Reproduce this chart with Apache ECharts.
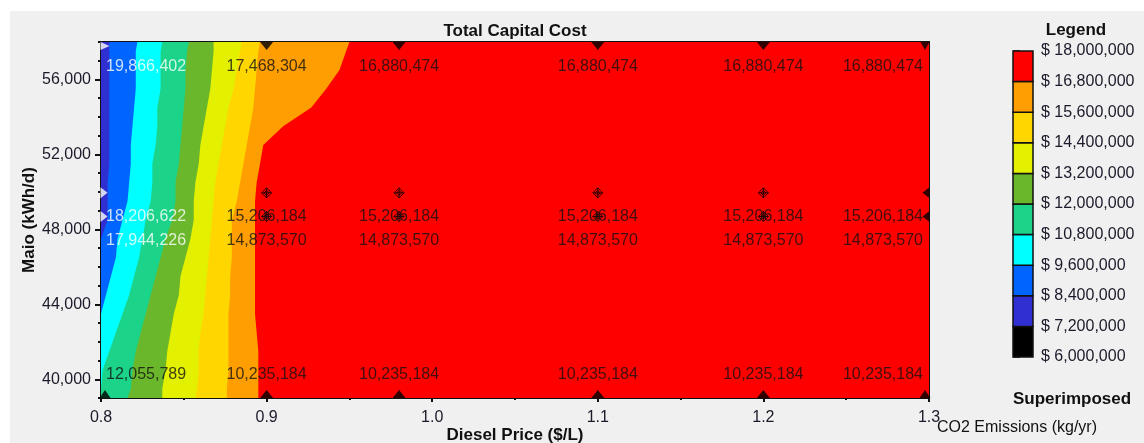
<!DOCTYPE html>
<html>
<head>
<meta charset="utf-8">
<script src="https://cdn.jsdelivr.net/npm/echarts@6/dist/echarts.min.js"></script>
<style>
  html, body { margin: 0; padding: 0; background: #ffffff; }
  #chart { width: 1144px; height: 443px; }
</style>
</head>
<body>
<div id="chart"></div>
<script>
// ---- Sensitivity cases (diesel price x Maio load) ----
const dieselPrices = [0.8, 0.9, 0.98, 1.1, 1.2, 1.3];
const maioLoads = [39000, 48690, 49950, 58000];

// Superimposed CO2 emissions (kg/yr) per load row, one value per diesel price
const co2AtLoad39000 = [12055789, 10235184, 10235184, 10235184, 10235184, 10235184];
const co2AtLoad48690 = [17944226, 14873570, 14873570, 14873570, 14873570, 14873570];
const co2AtLoad49950 = [18206622, 15206184, 15206184, 15206184, 15206184, 15206184];
const co2AtLoad58000 = [19866402, 17468304, 16880474, 16880474, 16880474, 16880474];
const co2Rows = [co2AtLoad39000, co2AtLoad48690, co2AtLoad49950, co2AtLoad58000];

// ---- Total capital cost contour: diesel price where each cost level is crossed ----
const contourLoads = [58000, 57500, 56500, 55500, 54500, 53500, 52500, 51500, 50500, 49500,
  48500, 47500, 46500, 45500, 44500, 43500, 42500, 41500, 40500, 39500, 39000];
const edgeAt8400k = [0.805, 0.805, 0.805, 0.805, 0.805, 0.805, 0.805, 0.805, 0.804, 0.804,
  0.804, 0.800, 0.800, 0.800, 0.800, 0.800, 0.800, 0.800, 0.800, 0.800, 0.800];
const edgeAt9600k = [0.822, 0.821, 0.821, 0.821, 0.820, 0.819, 0.818, 0.818, 0.817, 0.816,
  0.813, 0.810, 0.809, 0.806, 0.803, 0.800, 0.800, 0.800, 0.800, 0.800, 0.800];
const edgeAt10800k = [0.837, 0.836, 0.836, 0.836, 0.834, 0.834, 0.833, 0.831, 0.831, 0.830,
  0.827, 0.825, 0.823, 0.820, 0.817, 0.813, 0.809, 0.805, 0.801, 0.800, 0.800];
const edgeAt12000k = [0.853, 0.852, 0.851, 0.851, 0.850, 0.849, 0.848, 0.847, 0.845, 0.845,
  0.843, 0.839, 0.836, 0.833, 0.830, 0.827, 0.824, 0.821, 0.819, 0.818, 0.816];
const edgeAt13200k = [0.868, 0.868, 0.867, 0.866, 0.864, 0.862, 0.860, 0.859, 0.857, 0.856,
  0.856, 0.854, 0.851, 0.848, 0.847, 0.844, 0.842, 0.840, 0.839, 0.837, 0.837];
const edgeAt14400k = [0.885, 0.884, 0.882, 0.880, 0.877, 0.875, 0.873, 0.871, 0.869, 0.868,
  0.867, 0.866, 0.865, 0.864, 0.863, 0.862, 0.860, 0.859, 0.859, 0.858, 0.857];
const edgeAt15600k = [0.896, 0.895, 0.894, 0.893, 0.892, 0.890, 0.888, 0.886, 0.884, 0.882,
  0.879, 0.879, 0.879, 0.878, 0.878, 0.877, 0.877, 0.877, 0.877, 0.876, 0.876];
const edgeAt16800k = [0.950, 0.948, 0.944, 0.936, 0.927, 0.910, 0.898, 0.896, 0.894, 0.893,
  0.893, 0.893, 0.893, 0.893, 0.893, 0.893, 0.894, 0.895, 0.895, 0.895, 0.895];

// ---- Legend scale ----
const costThresholds = [6000000, 7200000, 8400000, 9600000, 10800000, 12000000,
  13200000, 14400000, 15600000, 16800000, 18000000];
const costColors = ['#000000', '#3030d2', '#0064ff', '#00ffff', '#1cd38a',
  '#6ab72c', '#e3f000', '#ffd600', '#ff9e00', '#ff0000'];

// ---- Axis ranges ----
const priceMin = 0.8, priceMax = 1.3, priceStep = 0.1;
const loadMin = 39000, loadMax = 58000;
const loadLabelTicks = [40000, 44000, 48000, 52000, 56000];

const bandEdges = [edgeAt8400k, edgeAt9600k, edgeAt10800k, edgeAt12000k,
  edgeAt13200k, edgeAt14400k, edgeAt15600k, edgeAt16800k];
const bandColors = costColors.slice(1);

const FONT = '"Liberation Sans", Arial, sans-serif';
const fmt = v => Math.round(v).toLocaleString('en-US');

// Each band covers everything to the right of its lower cost edge;
// drawn in order so the next band paints over it.
function renderBand(params, api) {
  const k = params.dataIndex;
  const left = k === 0 ? null : bandEdges[k - 1];
  const pts = [];
  for (let i = 0; i < contourLoads.length; i++) {
    pts.push(api.coord([left ? left[i] : priceMin, contourLoads[i]]));
  }
  pts.push(api.coord([priceMax, contourLoads[contourLoads.length - 1]]));
  pts.push(api.coord([priceMax, contourLoads[0]]));
  return { type: 'polygon', shape: { points: pts }, style: { fill: bandColors[k] } };
}

function renderLegendCell(params, api) {
  const i = params.dataIndex;
  const p0 = api.coord([0, costThresholds[i]]);
  const p1 = api.coord([1, costThresholds[i + 1]]);
  return {
    type: 'rect',
    shape: { x: p0[0], y: p1[1], width: p1[0] - p0[0], height: p0[1] - p1[1] },
    style: { fill: costColors[i], stroke: '#111', lineWidth: 1.5 }
  };
}

// Marker shapes for the sensitivity cases
const triDown = 'path://M0 0L2 0L1 1.2Z';
const triUp = 'path://M1 0L2 1.2L0 1.2Z';
const triRight = 'path://M0 0L1.2 1L0 2Z';
const triLeft = 'path://M1.2 0L1.2 2L0 1Z';
const caseMark = 'path://M5 0L10 5L5 10L0 5Z M5 2.5L7.5 5L5 7.5L2.5 5Z M0 5L10 5 M5 0L5 10';

function markerFor(row, col) {
  const last = dieselPrices.length - 1;
  const isTop = row === maioLoads.length - 1, isBottom = row === 0;
  if (col === 0 || col === last) {
    const white = col === 0 && !isBottom;
    const color = white ? '#ffffff' : '#000000';
    if (isTop) return { symbol: col === 0 ? triRight : triDown, symbolSize: [9, 8], symbolOffset: [col === 0 ? 4 : -4, 4], itemStyle: { color } };
    if (isBottom) return { symbol: triUp, symbolSize: [11, 8], symbolOffset: [col === 0 ? 4 : -4, -4], itemStyle: { color } };
    return { symbol: col === 0 ? triRight : triLeft, symbolSize: [7, 11], symbolOffset: [col === 0 ? 3 : -3, 0], itemStyle: { color } };
  }
  if (isTop) return { symbol: triDown, symbolSize: [13, 8], symbolOffset: [0, 4], itemStyle: { color: '#000' } };
  if (isBottom) return { symbol: triUp, symbolSize: [13, 8], symbolOffset: [0, -4], itemStyle: { color: '#000' } };
  return { symbol: caseMark, symbolSize: 10, itemStyle: { color: 'rgba(0,0,0,0)', borderColor: '#000', borderWidth: 1 } };
}

const markerData = [];
const labelData = [];
maioLoads.forEach((load, r) => {
  dieselPrices.forEach((price, c) => {
    markerData.push(Object.assign({ value: [price, load] }, markerFor(r, c)));
    const dy = r === 0 ? -23 : (r === maioLoads.length - 1 ? 25 : 24);
    const align = c === 0 ? 'left' : (c === dieselPrices.length - 1 ? 'right' : 'center');
    const dx = c === 0 ? 5 : (c === dieselPrices.length - 1 ? -6 : 0);
    const whiteText = c === 0 && r !== 0;
    labelData.push({
      value: [price, load, co2Rows[r][c]],
      label: { offset: [dx, dy], align, color: whiteText ? '#ffffff' : '#111111' }
    });
  });
});

const chart = echarts.init(document.getElementById('chart'));
chart.setOption({
  animation: false,
  backgroundColor: '#ffffff',
  graphic: [{
    type: 'rect', z: -10, silent: true,
    shape: { x: 10, y: 11, width: 1134, height: 432 },
    style: { fill: '#f0f0f0' }
  }],
  title: [
    { text: 'Total Capital Cost', left: 515, top: 23, textAlign: 'center', padding: 0,
      textStyle: { fontFamily: FONT, fontSize: 17, fontWeight: 'bold', color: '#111' } },
    { text: 'Legend', left: 1076, top: 22, textAlign: 'center', padding: 0,
      textStyle: { fontFamily: FONT, fontSize: 17, fontWeight: 'bold', color: '#111' } },
    { text: 'Superimposed', left: 1013, top: 391, padding: 0,
      textStyle: { fontFamily: FONT, fontSize: 17, fontWeight: 'bold', color: '#111' } },
    { text: 'CO2 Emissions (kg/yr)', left: 937, top: 420, padding: 0,
      textStyle: { fontFamily: FONT, fontSize: 16, fontWeight: 'normal', color: '#111' } }
  ],
  grid: [
    { left: 101, top: 42, width: 828, height: 356, outerBoundsMode: 'none',
      show: true, borderColor: '#111', borderWidth: 2, backgroundColor: 'transparent' },
    { left: 1013, top: 51, width: 20, height: 306, outerBoundsMode: 'none' }
  ],
  xAxis: [
    {
      gridIndex: 0, type: 'value', min: priceMin, max: priceMax, interval: priceStep,
      name: 'Diesel Price ($/L)', nameLocation: 'middle', nameGap: 29, nameMoveOverlap: false,
      nameTextStyle: { fontFamily: FONT, fontSize: 17, fontWeight: 'bold', color: '#111' },
      axisLine: { show: true, onZero: false, lineStyle: { color: '#111', width: 2 } },
      axisTick: { show: true, length: 4, lineStyle: { color: '#111', width: 2 } },
      minorTick: { show: true, splitNumber: 2, length: 2, lineStyle: { color: '#111', width: 2 } },
      splitLine: { show: false },
      axisLabel: { fontFamily: FONT, fontSize: 16, color: '#1a1a2a', margin: 12, formatter: v => v.toFixed(1) }
    },
    { gridIndex: 1, type: 'value', min: 0, max: 1, show: false }
  ],
  yAxis: [
    {
      gridIndex: 0, type: 'value', position: 'left', min: loadMin, max: loadMax, interval: 1000,
      name: 'Maio (kWh/d)', nameLocation: 'middle', nameGap: 63, nameMoveOverlap: false,
      nameTextStyle: { fontFamily: FONT, fontSize: 17, fontWeight: 'bold', color: '#111' },
      axisLine: { show: true, onZero: false, lineStyle: { color: '#111', width: 2 } },
      axisTick: { show: true, length: 6, customValues: loadLabelTicks, lineStyle: { color: '#111', width: 2 } },
      splitLine: { show: false },
      axisLabel: { fontFamily: FONT, fontSize: 16, color: '#1a1a2a', margin: 10, customValues: loadLabelTicks, formatter: v => fmt(v) }
    },
    {
      gridIndex: 0, type: 'value', position: 'left', offset: 0, min: loadMin, max: loadMax, interval: 1000,
      axisLine: { show: false }, axisLabel: { show: false }, splitLine: { show: false },
      axisTick: { show: true, length: 3, lineStyle: { color: '#111', width: 2 } }
    },
    {
      gridIndex: 1, type: 'value', position: 'right',
      min: costThresholds[0], max: costThresholds[costThresholds.length - 1], interval: 1200000,
      axisLine: { show: false }, splitLine: { show: false },
      axisTick: { show: true, length: 7, lineStyle: { color: '#111', width: 1.5 } },
      axisLabel: { fontFamily: FONT, fontSize: 16, color: '#1a1a2a', margin: 8, formatter: v => '$ ' + fmt(v) }
    }
  ],
  series: [
    {
      type: 'custom', xAxisIndex: 0, yAxisIndex: 0, clip: true, silent: true,
      renderItem: renderBand,
      data: bandColors.map((c, i) => [i])
    },
    {
      type: 'custom', xAxisIndex: 1, yAxisIndex: 2, silent: true,
      renderItem: renderLegendCell,
      data: costColors.map((c, i) => [0.5, costThresholds[i]])
    },
    {
      type: 'scatter', xAxisIndex: 0, yAxisIndex: 0, silent: true, z: 3,
      data: markerData
    },
    {
      type: 'scatter', xAxisIndex: 0, yAxisIndex: 0, silent: true, z: 4,
      symbolSize: 1, itemStyle: { color: 'rgba(0,0,0,0)' },
      label: {
        show: true, position: 'inside', fontFamily: FONT, fontSize: 16,
        formatter: p => fmt(p.value[2])
      },
      data: labelData
    }
  ]
});
</script>
</body>
</html>
